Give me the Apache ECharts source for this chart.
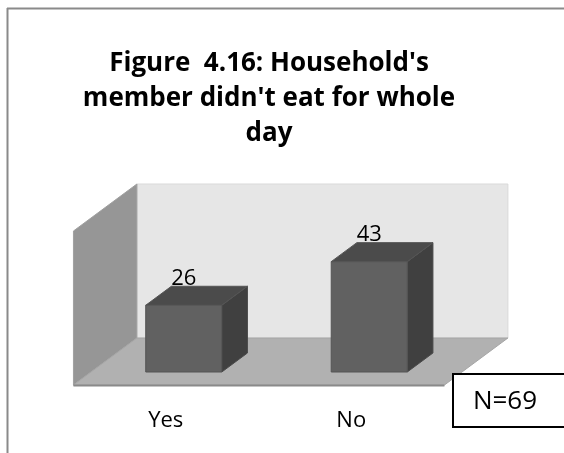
<!DOCTYPE html>
<html>
<head>
<meta charset="utf-8">
<script src="https://cdn.jsdelivr.net/npm/echarts@6/dist/echarts.min.js"></script>
<style>
html,body{margin:0;padding:0;background:#fff;}
#chart{width:564px;height:453px;}
</style>
</head>
<body>
<div id="chart"></div>
<script>
var categories = ['Yes', 'No'];
var values = [26, 43];
var titleText = "Figure  4.16: Household's\nmember didn't eat for whole\nday";
var noteText = 'N=69';

var FONT = '"Open Sans", "DejaVu Sans", sans-serif';
var DX = 1.35; // depth direction x per 1px of upward depth

var chart = echarts.init(document.getElementById('chart'), null, {renderer: 'canvas'});

function wallsRender(params, api) {
  var cs = params.coordSys;
  var gx = cs.x, gy = cs.y, gw = cs.width, gh = cs.height;
  var bottom = gy + gh;
  var f = 13, b = 34;
  var fl = [gx - f * DX, bottom + f];
  var fr = [gx + gw - f * DX, bottom + f];
  var br = [gx + gw + b * DX, bottom - b];
  var bl = [gx + b * DX, bottom - b];
  var topBack = gy - b;
  var topFront = gy + f;
  return {
    type: 'group',
    children: [
      {type: 'rect', shape: {x: bl[0], y: topBack, width: br[0] - bl[0], height: bl[1] - topBack},
       style: {fill: '#e6e6e6', stroke: '#d9d9d9', lineWidth: 1}},
      {type: 'polygon', shape: {points: [[fl[0], topFront], [bl[0], topBack], bl, fl]},
       style: {fill: '#969696', stroke: '#a0a0a0', lineWidth: 1}},
      {type: 'polygon', shape: {points: [fl, fr, br, bl]},
       style: {fill: '#b1b1b1', stroke: '#a6a6a6', lineWidth: 1}},
      {type: 'line', shape: {x1: fl[0], y1: fl[1] + 0.5, x2: fr[0], y2: fr[1] + 0.5},
       style: {stroke: '#8a8a8a', lineWidth: 2}}
    ]
  };
}

function barRender(params, api) {
  var top = api.coord([api.value(0), api.value(1)]);
  var base = api.coord([api.value(0), 0]);
  var w = api.size([1, 0])[0] * 0.41;
  var x0 = top[0] - w / 2, x1 = top[0] + w / 2;
  var yT = top[1], yB = base[1];
  var dy = 19, dx = dy * DX;
  return {
    type: 'group',
    children: [
      {type: 'polygon', shape: {points: [[x1, yT], [x1 + dx, yT - dy], [x1 + dx, yB - dy], [x1, yB]]},
       style: {fill: '#404040', stroke: '#4a4a4a', lineWidth: 1}},
      {type: 'polygon', shape: {points: [[x0, yT], [x1, yT], [x1 + dx, yT - dy], [x0 + dx, yT - dy]]},
       style: {fill: '#4b4b4b', stroke: '#555555', lineWidth: 1}},
      {type: 'rect', shape: {x: x0, y: yT, width: w, height: yB - yT},
       style: {fill: '#616161', stroke: '#555555', lineWidth: 1}},
      {type: 'text', x: top[0], y: yT - 27,
       style: {text: String(api.value(1)), font: '22px ' + FONT, fill: '#000',
               align: 'center', verticalAlign: 'middle'}}
    ]
  };
}

var option = {
  animation: false,
  backgroundColor: '#ffffff',
  title: {
    text: titleText,
    left: 264,
    top: 41,
    textAlign: 'center',
    textStyle: {fontFamily: FONT, fontWeight: 'bold', fontSize: 26, lineHeight: 35, color: '#000'}
  },
  grid: {left: 91, right: 102, top: 218, bottom: 81, containLabel: false},
  xAxis: {
    type: 'category',
    data: categories,
    axisLine: {show: false},
    axisTick: {show: false},
    splitLine: {show: false},
    axisLabel: {fontFamily: FONT, fontSize: 22, color: '#000', margin: 38, padding: [0, 36, 0, 0]}
  },
  yAxis: {type: 'value', min: 0, max: 60, show: false, splitLine: {show: false}},
  series: [
    {type: 'custom', renderItem: wallsRender, data: [[0, 0]], z: 1, silent: true},
    {type: 'custom', renderItem: barRender, data: categories.map(function (c, i) { return [i, values[i]]; }), z: 2,
     encode: {x: 0, y: 1}}
  ],
  graphic: [
    {type: 'line', shape: {x1: 7, y1: 8.5, x2: 564, y2: 8.5}, style: {stroke: '#8a8a8a', lineWidth: 2}, z: 10},
    {type: 'line', shape: {x1: 7.5, y1: 8, x2: 7.5, y2: 453}, style: {stroke: '#8a8a8a', lineWidth: 2}, z: 10},
    {type: 'rect', shape: {x: 453, y: 374, width: 130, height: 53},
     style: {fill: '#ffffff', stroke: '#000', lineWidth: 2}, z: 10},
    {type: 'text', x: 505, y: 402,
     style: {text: noteText, font: '26px ' + FONT, fill: '#000', align: 'center', verticalAlign: 'middle'}, z: 11}
  ]
};
chart.setOption(option);
</script>
</body>
</html>
